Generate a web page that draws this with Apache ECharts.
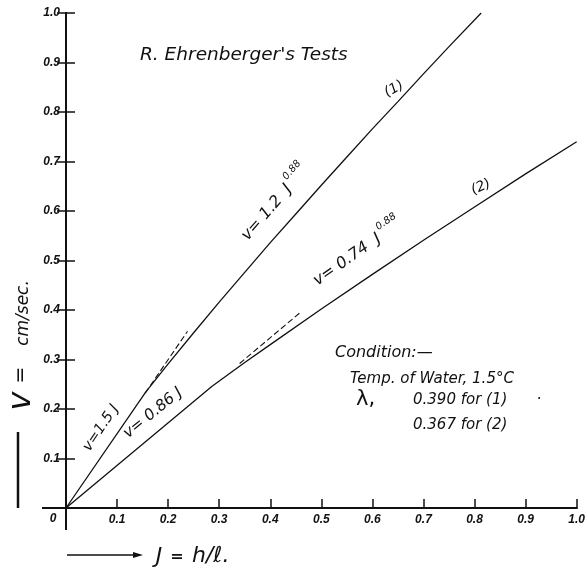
<!DOCTYPE html>
<html>
<head>
<meta charset="utf-8">
<script src="https://cdn.jsdelivr.net/npm/echarts@6/dist/echarts.min.js"></script>
<style>html,body{margin:0;padding:0;background:#fff}#c{width:588px;height:570px}</style>
</head>
<body>
<div id="c"></div>
<script>
// ---- data ----
var xTicks = [0, 0.1, 0.2, 0.3, 0.4, 0.5, 0.6, 0.7, 0.8, 0.9, 1.0];
var yTicks = [0, 0.1, 0.2, 0.3, 0.4, 0.5, 0.6, 0.7, 0.8, 0.9, 1.0];
// curve (1): v = 1.5 J then v = 1.2 J^0.88
var curve1J = [0, 0.156, 0.2, 0.25, 0.3, 0.35, 0.4, 0.45, 0.5, 0.55, 0.6, 0.65, 0.7, 0.75, 0.813];
var curve1V = [0, 0.234, 0.291, 0.354, 0.416, 0.476, 0.536, 0.594, 0.652, 0.709, 0.766, 0.821, 0.877, 0.932, 1.0];
// curve (2): v = 0.86 J then v = 0.74 J^0.88
var curve2J = [0, 0.286, 0.35, 0.4, 0.5, 0.6, 0.7, 0.8, 0.9, 1.0];
var curve2V = [0, 0.246, 0.294, 0.330, 0.402, 0.472, 0.541, 0.608, 0.675, 0.74];
// dashed extensions of the straight-line laws
var dash1J = [0.155, 0.238];
var dash1V = [0.232, 0.357];
var dash2J = [0.34, 0.46];
var dash2V = [0.292, 0.396];

function zip(a, b) { return a.map(function (v, i) { return [v, b[i]]; }); }

var FONT = 'Liberation Sans';
var HAND = 'DejaVu Sans';
var chart = echarts.init(document.getElementById('c'));

var lineStyle = { color: '#111', width: 1.3 };
var tickLabel = {
  fontFamily: FONT, fontStyle: 'italic', fontWeight: 'bold', fontSize: 12, color: '#111'
};
function fmt(v) { return v === 0 ? '' : v.toFixed(1); }

var option = {
  animation: false,
  backgroundColor: '#fff',
  grid: { left: 66, top: 13, right: 9, bottom: 62 },
  xAxis: [{
    type: 'value', min: 0, max: 1, interval: 0.1,
    axisLine: { show: true, lineStyle: { color: '#111', width: 2 } },
    axisTick: { show: true, inside: true, length: 9, lineStyle: { color: '#111', width: 1.5 } },
    splitLine: { show: false },
    axisLabel: Object.assign({ margin: 6, formatter: fmt }, tickLabel)
  }, {
    type: 'value', min: 0, max: 1, interval: 0.1, position: 'top',
    axisLine: { show: true, lineStyle: { color: '#111', width: 2 } },
    axisTick: { show: false }, axisLabel: { show: false }, splitLine: { show: false }
  }],
  yAxis: [{
    type: 'value', min: 0, max: 1, interval: 0.1,
    axisLine: { show: true, lineStyle: { color: '#111', width: 2 } },
    axisTick: { show: true, inside: true, length: 9, lineStyle: { color: '#111', width: 1.5 } },
    splitLine: { show: false },
    axisLabel: Object.assign({ margin: 6, formatter: fmt }, tickLabel)
  }, {
    type: 'value', min: 0, max: 1, interval: 0.1, position: 'right',
    axisLine: { show: true, lineStyle: { color: '#111', width: 2 } },
    axisTick: { show: true, inside: true, length: 9, lineStyle: { color: '#111', width: 1.5 } },
    axisLabel: { show: false }, splitLine: { show: false }
  }],
  series: [
    { type: 'line', data: zip(curve1J, curve1V), showSymbol: false, lineStyle: lineStyle },
    { type: 'line', data: zip(curve2J, curve2V), showSymbol: false, lineStyle: lineStyle },
    { type: 'line', data: zip(dash1J, dash1V), showSymbol: false, lineStyle: { color: '#111', width: 1.1, type: [6, 3] } },
    { type: 'line', data: zip(dash2J, dash2V), showSymbol: false, lineStyle: { color: '#111', width: 1.1, type: [6, 3] } }
  ]
};
chart.setOption(option);

function deg(d) { return d * Math.PI / 180; }
function txt(x, y, text, size, rot, extra) {
  var st = Object.assign({
    text: text, fontFamily: HAND, fontStyle: 'italic', fontSize: size, fill: '#111',
    align: 'center', verticalAlign: 'middle'
  }, extra || {});
  return { type: 'text', x: x, y: y, rotation: rot ? deg(rot) : 0, style: st };
}
var sup = {
  m: { fontFamily: HAND, fontStyle: 'italic', fontSize: 16, fill: '#111', verticalAlign: 'bottom', lineHeight: 22 },
  s: { fontFamily: HAND, fontStyle: 'italic', fontSize: 10, fill: '#111', verticalAlign: 'top', lineHeight: 22 }
};

var o = chart.convertToPixel({ xAxisIndex: 0, yAxisIndex: 0 }, [0, 0]);
var graphics = [
  // axis line extensions beyond the origin
  { type: 'line', shape: { x1: 42, y1: o[1], x2: o[0], y2: o[1] }, style: { stroke: '#111', lineWidth: 2 } },
  { type: 'line', shape: { x1: o[0], y1: o[1], x2: o[0], y2: 530 }, style: { stroke: '#111', lineWidth: 2 } },
  txt(53, 519, '0', 12, 0, { fontFamily: FONT, fontWeight: 'bold' }),
  // title
  txt(140, 55, "R. Ehrenberger's Tests", 18.5, 0, { align: 'left' }),
  // curve labels
  txt(394, 89, '(1)', 14, 30),
  txt(481, 187, '(2)', 14, 25),
  { type: 'text', x: 273, y: 201, rotation: deg(49), style: { text: '{m|v= 1.2  J}{s| 0.88}', rich: sup, align: 'center', verticalAlign: 'middle' } },
  { type: 'text', x: 356, y: 250, rotation: deg(35), style: { text: '{m|v= 0.74  J}{s| 0.88}', rich: sup, align: 'center', verticalAlign: 'middle' } },
  txt(101, 428, 'v=1.5 J', 14.5, 56),
  txt(153, 413, 'v= 0.86 J', 15.5, 39),
  // condition block
  txt(335, 353, 'Condition:\u2014', 16, 0, { align: 'left' }),
  txt(350, 379, 'Temp. of Water, 1.5\u00b0C', 15, 0, { align: 'left' }),
  txt(356, 400, '\u03bb,', 21, 0, { align: 'left', fontStyle: 'normal' }),
  txt(413, 400, '0.390 for (1)', 15, 0, { align: 'left' }),
  txt(539, 400, '\u00b7', 15, 0),
  txt(413, 425, '0.367 for (2)', 15, 0, { align: 'left' }),
  // y axis title (rotated, reading upward)
  txt(22, 401, 'v', 32, 90),
  txt(21, 375, '=', 20, 90, { fontStyle: 'normal' }),
  txt(24, 313, 'cm/sec.', 17, 90),
  { type: 'line', shape: { x1: 18, y1: 432, x2: 18, y2: 508 }, style: { stroke: '#111', lineWidth: 2.5 } },
  // x axis title
  { type: 'line', shape: { x1: 67, y1: 555, x2: 134, y2: 555 }, style: { stroke: '#111', lineWidth: 1.5 } },
  { type: 'polygon', shape: { points: [[133, 552], [143, 555], [133, 558]] }, style: { fill: '#111' } },
  txt(159, 557, 'J', 22, 0),
  txt(177, 557, '=', 16, 0, { fontStyle: 'normal', fontWeight: 'bold' }),
  txt(192, 556, 'h/\u2113.', 22, 0, { align: 'left' })
];
chart.setOption({ graphic: graphics });
</script>
</body>
</html>
